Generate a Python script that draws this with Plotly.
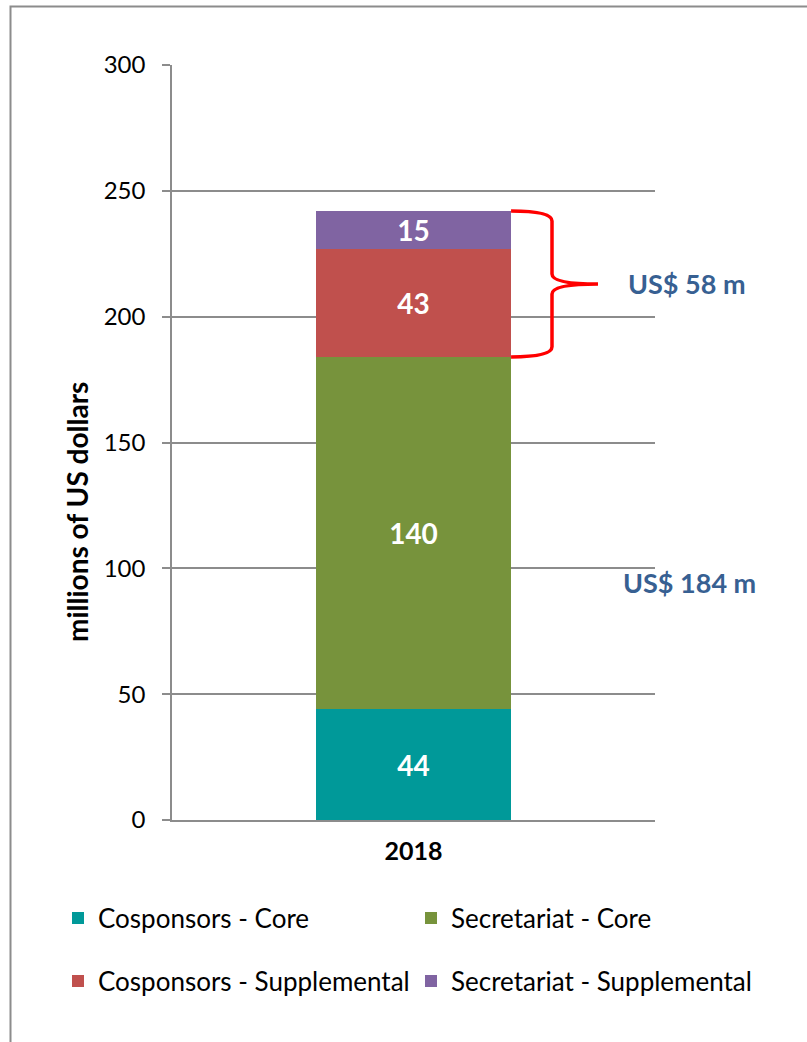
import plotly.graph_objects as go

# Funding for 2018, millions of US dollars
years = ["2018"]
series_names = [
    "Cosponsors - Core",
    "Secretariat - Core",
    "Cosponsors - Supplemental",
    "Secretariat - Supplemental",
]
cosponsors_core = [44]
secretariat_core = [140]
cosponsors_supplemental = [43]
secretariat_supplemental = [15]
y_ticks = [0, 50, 100, 150, 200, 250, 300]

colors = ["#009999", "#77933C", "#C0504D", "#8064A2"]
legend_ids = ["legend", "legend2", "legend3", "legend4"]
series_values = [cosponsors_core, secretariat_core,
                 cosponsors_supplemental, secretariat_supplemental]

FONT = "Lato, Calibri, Carlito, sans-serif"
GRID = "#8C8C8C"

# plot-area geometry (px) used to place paper-referenced items
W, H = 807, 1042
L, R, T, B = 172, 152, 65, 222
PW, PH = W - L - R, H - T - B


def px_x(p):
    return (p - L) / PW


def px_y(p):
    return (H - B - p) / PH


BAR_WIDTH = 0.404

fig = go.Figure()
for name, vals, col, lg in zip(series_names, series_values, colors, legend_ids):
    fig.add_trace(go.Bar(
        x=years, y=vals, name=name, legend=lg,
        marker=dict(color=col, line=dict(width=0)),
        width=BAR_WIDTH,
        text=[str(v) for v in vals],
        textposition="inside", insidetextanchor="middle",
        constraintext="none", textangle=0,
        textfont=dict(family=FONT, size=28, color="white", weight="bold"),
        hoverinfo="name+y",
    ))

core_total = cosponsors_core[0] + secretariat_core[0]
supp_total = cosponsors_supplemental[0] + secretariat_supplemental[0]
grand_total = core_total + supp_total

# curly brace around the supplemental part of the bar
x0 = 0.5 + BAR_WIDTH / 2
x1 = px_x(552)
xt = px_x(598)
top, bot = grand_total, core_total
mid = (top + bot) / 2
r = 4
brace = (
    f"M {x0},{top} Q {x1},{top} {x1},{top - r} "
    f"L {x1},{mid + r} Q {x1},{mid} {xt},{mid} "
    f"Q {x1},{mid} {x1},{mid - r} "
    f"L {x1},{bot + r} Q {x1},{bot} {x0},{bot}"
)

shapes = [
    dict(type="path", xref="paper", yref="y", path=brace,
         line=dict(color="#FF0000", width=3.5)),
    # chart frame
    dict(type="rect", xref="paper", yref="paper",
         x0=px_x(10.5), x1=px_x(W + 20), y0=px_y(H + 20), y1=px_y(6.5),
         line=dict(color="#8C8C8C", width=2), fillcolor="rgba(0,0,0,0)",
         layer="below"),
]

annotations = [
    dict(text="millions of US dollars", xref="paper", yref="paper",
         x=px_x(77), y=px_y(512), textangle=-90, showarrow=False,
         xanchor="center", yanchor="middle",
         font=dict(family=FONT, size=28, color="black", weight="bold")),
    dict(text=f"US$ {supp_total} m", xref="paper", yref="y",
         x=px_x(626), y=mid, xanchor="left", yanchor="middle", showarrow=False,
         font=dict(family=FONT, size=27, color="#376092", weight="bold")),
    dict(text=f"US$ {core_total} m", xref="paper", yref="y",
         x=px_x(621), y=core_total / 2, yshift=6, xanchor="left",
         yanchor="middle", showarrow=False,
         font=dict(family=FONT, size=27, color="#376092", weight="bold")),
]

legend_style = dict(
    orientation="h", xanchor="left", yanchor="middle",
    font=dict(family=FONT, size=26, color="black"),
    bgcolor="rgba(0,0,0,0)", borderwidth=0,
)
# two columns x two rows of legend entries
col_x = [58, 411]
row_y = [918, 981]
legend_pos = {
    "legend": (col_x[0], row_y[0]),
    "legend2": (col_x[1], row_y[0]),
    "legend3": (col_x[0], row_y[1]),
    "legend4": (col_x[1], row_y[1]),
}
legend_layout = {
    k: dict(x=px_x(xp), y=px_y(yp), **legend_style)
    for k, (xp, yp) in legend_pos.items()
}

fig.update_layout(
    width=W, height=H,
    margin=dict(l=L, r=R, t=T, b=B),
    paper_bgcolor="white", plot_bgcolor="white",
    barmode="stack",
    showlegend=True,
    **legend_layout,
    xaxis=dict(
        type="category", range=[-0.5, 0.5],
        showline=True, linecolor=GRID, linewidth=2,
        showgrid=False, ticks="",
        tickfont=dict(family=FONT, size=25, color="black", weight="bold"),
        ticklabelstandoff=8,
    ),
    yaxis=dict(
        range=[0, 300], tickvals=y_ticks,
        showline=True, linecolor=GRID, linewidth=1.5,
        showgrid=True, gridcolor=GRID, gridwidth=2,
        zeroline=False,
        ticks="outside", ticklen=8, tickwidth=2, tickcolor=GRID,
        tickfont=dict(family=FONT, size=24, color="black"),
        ticklabelstandoff=12,
    ),
    shapes=shapes,
    annotations=annotations,
)

fig.write_html("out.html")
